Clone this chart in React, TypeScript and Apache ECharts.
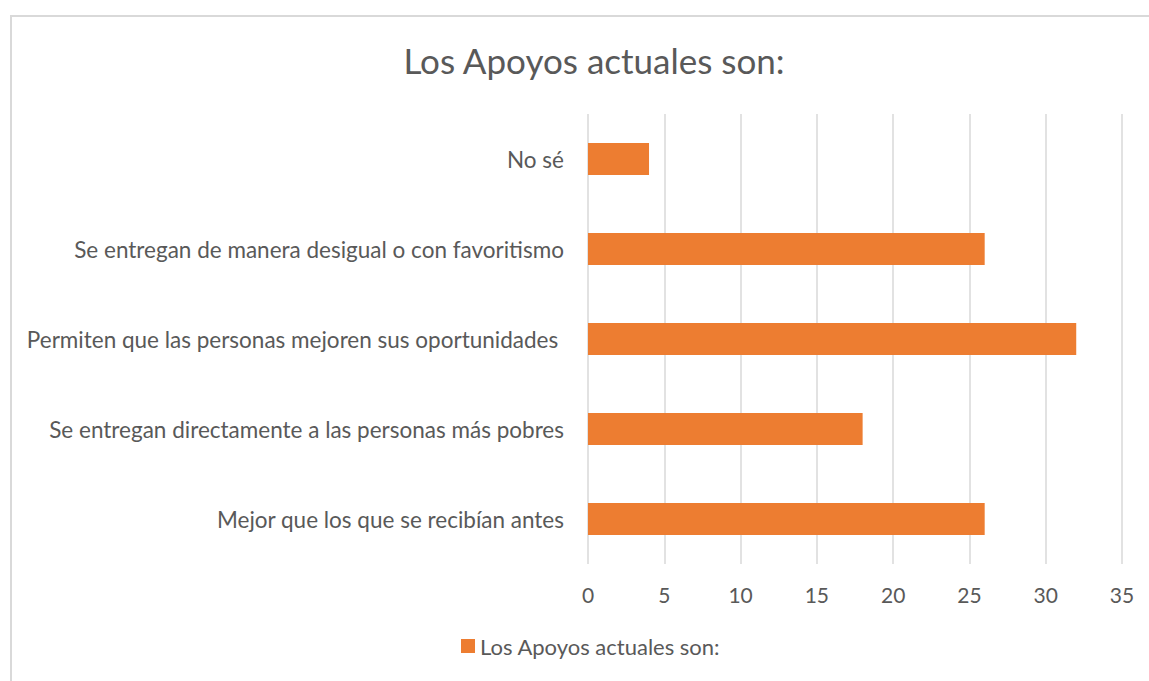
import React, { useEffect, useRef } from "react";
import * as echarts from "echarts";

const title = "Los Apoyos actuales son:";
const seriesName = "Los Apoyos actuales son:";
const categories = [
  "Mejor que los que se recibían antes",
  "Se entregan directamente a las personas más pobres",
  "Permiten que las personas mejoren sus oportunidades ",
  "Se entregan de manera desigual o con favoritismo",
  "No sé",
];
const values = [26, 18, 32, 26, 4];
const xTicks = { min: 0, max: 35, interval: 5 };

const FONT = "Lato, 'Open Sans', sans-serif";
const TEXT = "#595959";

export default function App() {
  const ref = useRef<HTMLDivElement>(null);
  useEffect(() => {
    if (!ref.current) return;
    const chart = echarts.init(ref.current, null, { renderer: "svg" });
    chart.setOption({
      animation: false,
      backgroundColor: "#ffffff",
      textStyle: { fontFamily: FONT },
      title: {
        text: title,
        left: 589,
        top: 37,
        textAlign: "center",
        textStyle: { fontFamily: FONT, fontSize: 35, fontWeight: "normal", color: TEXT },
      },
      graphic: [
        {
          type: "rect",
          shape: { x: 11, y: 16, width: 1300, height: 800 },
          style: { fill: "none", stroke: "#d9d9d9", lineWidth: 2 },
          silent: true,
          z: -1,
        },
      ],
      legend: {
        bottom: 19,
        left: 456,
        itemWidth: 14,
        itemHeight: 14,
        icon: "rect",
        itemGap: 6,
        textStyle: { fontFamily: FONT, fontSize: 22, color: TEXT, padding: [0, 0, 0, 0] },
        data: [seriesName],
      },
      grid: { left: 588, right: 27, top: 114, bottom: 117, containLabel: false },
      xAxis: {
        type: "value",
        min: xTicks.min,
        max: xTicks.max,
        interval: xTicks.interval,
        axisLine: { show: false },
        axisTick: { show: false },
        splitLine: { show: true, lineStyle: { color: "#d9d9d9", width: 1.5 } },
        axisLabel: { color: TEXT, fontFamily: FONT, fontSize: 21, margin: 20 },
      },
      yAxis: {
        type: "category",
        data: categories,
        axisLine: { show: false },
        axisTick: { show: false },
        axisLabel: { color: TEXT, fontFamily: FONT, fontSize: 22.5, margin: 24 },
      },
      series: [
        {
          name: seriesName,
          type: "bar",
          data: values,
          barWidth: 32,
          itemStyle: { color: "#ED7D31" },
        },
      ],
    });
    return () => chart.dispose();
  }, []);
  return <div ref={ref} style={{ width: 1149, height: 681, position: "absolute", left: 0, top: 0 }} />;
}
